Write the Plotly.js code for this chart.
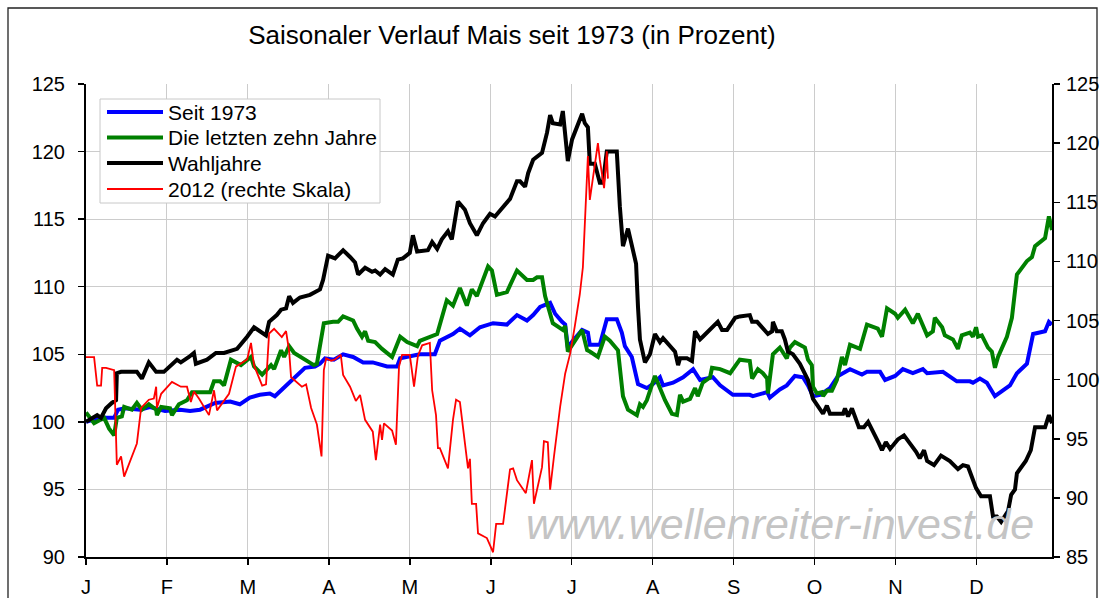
<!DOCTYPE html>
<html>
<head>
<meta charset="utf-8">
<script src="https://cdn.plot.ly/plotly-3.0.1.min.js"></script>
<style>html,body{margin:0;padding:0;background:#fff;}#chart{width:1102px;height:598px;}</style>
</head>
<body>
<div id="chart"></div>
<script>
// x = trading day of the year (≈21 per month)
const monthTickDays = [0,21,42,63,84,105,126,147,168,189,210,231];
const monthLabels = ['J','F','M','A','M','J','J','A','S','O','N','D'];

const seriesNames = ['Seit 1973','Die letzten zehn Jahre','Wahljahre','2012 (rechte Skala)'];

const xSeit = [0,3.6,7.3,8.3,10.1,14.0,16.6,20.5,24.4,27.0,29.6,33.5,37.4,39.9,42.5,45.1,47.7,49.0,51.6,54.2,56.8,59.4,60.7,62.0,64.3,66.7,69.3,71.9,74.4,78.1,80.7,81.5,83.3,86.6,90.5,91.8,95.2,97.0,99.6,102.2,105.6,109.2,111.8,114.4,116.0,117.8,120.4,121.7,123.5,124.3,125.0,126.3,128.7,130.2,130.7,133.3,135.1,137.7,139.0,139.8,141.6,143.2,145.5,147.1,148.9,149.7,152.3,154.9,157.5,159.3,162.6,164.5,167.8,172.2,173.0,176.7,177.4,180.0,181.8,183.9,186.0,187.3,188.6,190.4,193.0,195.1,198.2,201.3,202.6,206.0,207.3,209.9,211.9,214.5,217.1,218.2,222.3,225.9,229.3,230.1,231.9,233.7,235.8,239.7,241.5,244.1,245.7,248.8,249.8,250.6];
const ySeit = [100.0,100.3,100.3,100.9,101.0,100.9,101.1,100.8,100.9,100.8,100.9,101.4,101.5,101.3,101.8,102.0,102.1,101.9,102.6,103.3,104.0,104.1,104.3,104.7,104.6,105.0,104.8,104.4,104.4,104.1,104.1,104.7,104.8,105.0,105.0,106.0,106.5,106.9,106.4,107.0,107.3,107.2,107.9,107.5,107.9,108.5,108.8,108.0,107.4,107.2,105.5,106.0,106.8,106.6,105.7,105.7,107.6,107.6,106.6,105.6,104.8,102.8,102.5,102.8,103.3,102.7,102.9,103.3,103.9,103.1,103.3,102.7,102.0,102.0,101.9,102.2,101.8,102.4,102.7,103.4,103.3,102.7,101.9,102.0,102.5,103.4,103.9,103.5,103.7,103.7,103.1,103.4,103.9,103.6,103.9,103.6,103.7,103.0,103.0,102.9,103.2,102.9,101.9,102.7,103.6,104.3,106.5,106.7,107.4,107.2];

const xZehn = [0,2.1,4.7,6.0,7.3,8.0,9.3,9.9,11.9,13.2,14.5,16.3,18.2,18.4,19.5,21.8,22.3,24.1,26.2,27.5,32.2,33.2,34.8,35.8,37.6,38.9,40.2,42.8,43.6,45.7,46.7,48.0,48.8,50.6,51.4,52.7,54.0,56.5,59.1,59.9,61.7,64.1,65.4,66.7,69.3,70.3,71.6,72.4,73.2,75.0,76.8,79.4,81.5,83.3,84.8,85.9,86.6,89.2,91.1,93.6,95.2,97.0,98.8,100.1,101.4,104.3,105.3,106.6,109.2,110.0,111.8,114.4,116.0,117.0,118.3,119.1,120.4,121.1,123.7,124.3,125.0,126.3,128.7,130.0,130.7,132.8,134.6,135.9,138.0,139.3,140.6,142.9,143.7,144.5,145.5,147.6,148.9,150.2,152.0,153.3,154.1,154.9,156.7,158.0,158.7,160.0,161.9,162.4,164.5,167.1,169.6,172.2,172.8,174.3,175.6,176.7,176.9,178.2,180.0,181.8,182.6,183.9,186.5,187.3,188.3,188.6,189.6,190.9,191.2,192.2,193.5,194.8,196.1,196.9,198.2,200.8,202.6,205.4,206.5,207.8,209.9,210.6,212.5,214.5,215.8,218.2,219.7,220.2,222.1,222.8,224.9,226.2,227.2,229.3,230.1,230.9,231.4,232.4,234.0,235.0,235.8,236.6,238.9,240.2,241.5,244.1,245.4,246.2,248.8,249.8,250.6];
const yZehn = [100.7,99.9,100.3,99.5,99.0,100.3,100.4,101.1,100.9,101.4,100.9,101.3,100.9,100.5,101.1,101.0,100.5,101.3,101.6,102.2,102.2,103.0,103.0,102.7,104.6,104.4,104.2,104.8,104.1,103.5,103.8,104.2,103.9,105.3,104.8,105.6,105.1,104.7,104.2,104.3,107.3,107.4,107.4,107.8,107.5,106.9,106.3,106.7,106.0,105.9,105.4,104.8,106.3,105.9,105.7,105.6,106.0,106.3,106.5,109.0,108.6,109.9,108.6,109.8,109.3,111.5,111.2,109.4,109.6,110.1,111.2,110.5,110.5,110.7,110.7,109.3,108.1,107.3,106.8,107.1,105.2,105.8,106.8,105.3,105.2,104.8,106.3,106.0,105.3,101.9,100.9,100.5,101.3,101.1,101.6,103.4,102.4,101.6,100.6,100.5,102.0,101.5,101.7,102.5,101.9,102.9,103.3,104.0,103.9,103.6,104.6,104.5,103.2,103.9,103.6,103.2,102.1,105.0,105.5,104.7,105.5,105.9,105.5,104.6,104.2,102.6,102.1,102.2,101.9,102.3,102.3,103.1,104.8,104.2,105.7,105.4,107.2,106.9,106.3,108.4,108.0,107.7,108.3,107.3,108.0,106.4,106.7,107.7,107.0,106.4,106.1,105.4,106.4,106.6,106.3,107.0,106.3,106.4,105.5,105.2,104.0,104.8,106.3,107.7,110.9,111.9,112.2,113.0,113.6,115.2,114.2];

const xWahl = [0,2.9,3.9,5.2,6.7,7.8,8.0,9.1,13.2,14.5,16.3,18.2,20.2,23.6,24.6,25.9,26.7,28.0,28.5,31.4,33.7,35.8,37.1,39.2,41.8,43.6,46.7,47.5,49.5,50.6,51.9,52.7,53.7,55.5,58.1,59.7,60.7,61.5,62.8,64.6,66.7,68.5,69.8,70.6,72.4,74.2,75.0,76.3,77.6,79.6,80.9,82.2,84.0,84.8,85.9,88.7,89.8,91.1,92.3,93.9,94.9,96.5,98.3,99.6,101.4,103.0,104.8,106.1,107.9,110.0,111.8,112.6,113.9,114.7,116.0,118.3,119.6,120.4,121.1,123.0,123.7,125.0,126.1,128.7,129.4,130.2,130.7,132.0,133.3,134.1,135.1,137.7,138.5,139.3,140.6,142.7,143.2,143.7,145.0,146.3,147.6,148.9,149.7,151.5,152.8,153.6,154.1,155.9,157.2,158.0,159.3,160.0,162.6,163.9,165.0,166.3,168.4,169.6,172.2,172.8,174.1,175.4,176.9,178.0,178.2,179.2,180.5,181.3,182.1,183.4,185.2,187.3,188.6,191.2,192.2,193.0,196.4,196.9,197.7,198.7,200.5,201.8,202.9,205.7,206.5,207.5,208.6,210.6,212.2,215.3,216.3,217.4,218.2,220.0,221.8,224.1,226.2,227.5,228.8,230.9,232.2,234.5,235.3,236.3,237.4,239.2,240.0,241.0,241.5,243.8,245.1,246.2,248.8,249.8,250.6];
const yWahl = [100.0,100.5,100.3,101.0,101.4,101.6,103.6,103.7,103.7,103.2,104.4,103.7,103.7,104.6,104.4,104.6,104.8,105.1,104.3,104.6,105.1,105.1,105.2,105.4,106.3,107.0,106.4,107.4,107.9,108.3,108.4,109.3,108.8,109.2,109.4,109.6,109.8,110.5,112.3,112.1,112.7,112.2,111.8,110.9,111.4,111.1,111.2,110.9,111.3,110.9,112.0,112.1,112.5,113.8,112.6,112.7,113.3,112.8,113.5,114.1,113.5,116.3,115.7,114.7,113.8,114.7,115.4,115.2,115.8,116.5,117.8,117.8,117.4,118.4,119.4,119.9,121.4,122.7,122.1,122.0,123.0,119.3,120.9,122.8,122.1,121.8,119.1,119.1,117.7,117.7,120.0,120.0,115.9,113.0,114.3,111.7,108.5,106.1,104.4,105.0,106.5,105.9,106.2,105.6,105.2,104.2,104.7,104.7,104.5,106.7,106.1,106.3,107.0,107.4,106.8,106.8,107.7,107.8,107.9,107.4,107.4,107.0,106.5,106.7,107.4,106.7,106.7,106.1,105.2,105.0,104.3,103.1,101.7,100.6,101.2,100.6,100.6,101.0,100.4,101.0,99.6,99.6,100.0,98.4,97.9,98.5,98.0,98.7,99.0,97.8,97.3,97.9,97.1,96.8,97.5,97.1,96.5,96.8,96.7,95.1,94.5,94.5,93.0,93.0,92.6,93.4,94.6,95.0,96.2,97.1,97.9,99.6,99.6,100.5,99.9];

const x2012 = [0,2.1,2.9,3.9,4.2,5.2,7.3,7.8,8.0,9.1,9.9,13.2,14.3,16.3,17.6,18.2,18.4,19.5,22.3,24.6,26.2,27.2,28.0,29.3,31.9,33.2,34.0,37.1,38.9,41.8,42.8,43.6,45.7,46.7,47.5,48.8,50.8,51.9,52.7,53.2,54.7,56.0,57.1,58.4,59.9,61.1,61.7,62.3,63.6,64.6,66.1,66.7,68.5,70.0,71.1,72.4,74.4,75.2,76.3,76.8,77.3,79.4,80.4,81.2,82.0,84.0,85.1,86.1,87.2,89.2,89.8,90.8,91.3,91.8,93.9,94.9,95.2,96.0,97.0,99.1,99.6,100.1,101.2,101.7,104.0,104.8,105.6,106.4,108.2,110.0,110.8,111.8,114.1,115.7,116.2,118.3,118.8,119.8,120.4,121.4,123.0,124.3,125.6,126.8,128.1,128.9,130.2,130.7,132.8,133.3,134.4,135.1,135.4];
const y2012 = [101.9,101.9,99.5,99.5,101.0,101.0,100.8,94.6,92.8,93.5,91.8,94.6,97.6,98.3,98.4,99.4,97.6,98.8,99.8,99.4,99.4,98.1,99.0,98.4,97.0,99.1,97.4,98.8,101.1,101.7,103.1,101.2,99.5,99.6,103.9,104.3,103.6,104.1,102.4,100.2,99.8,99.4,99.6,97.6,96.2,93.5,100.8,101.8,101.6,101.7,102.1,100.4,99.4,98.2,98.7,96.6,95.6,93.2,96.2,94.9,96.3,95.7,94.5,101.1,102.1,102.1,99.4,102.0,102.9,103.1,99.1,97.0,94.2,94.2,92.5,95.9,96.6,98.3,98.1,92.5,93.3,89.5,89.5,87.0,86.6,86.0,85.4,87.8,87.8,92.4,92.5,91.5,90.4,93.2,89.5,92.6,94.8,94.7,90.7,93.5,97.7,100.5,102.2,104.5,107.2,109.5,118.9,115.2,120.0,118.6,116.2,119.3,117.0];

const colors = ['#0000ff','#008000','#000000','#ff0000'];
const widths = [4,4,4,1.8];
const FONT = 'Liberation Sans, Arial, Helvetica, sans-serif';

const traces = [
  {x:xSeit, y:ySeit, name:seriesNames[0], yaxis:'y'},
  {x:xZehn, y:yZehn, name:seriesNames[1], yaxis:'y'},
  {x:xWahl, y:yWahl, name:seriesNames[2], yaxis:'y'},
  {x:x2012, y:y2012, name:seriesNames[3], yaxis:'y2'}
].map((t,i)=>Object.assign(t,{type:'scatter',mode:'lines',line:{color:colors[i],width:widths[i]},hoverinfo:'skip'}));

// manual legend (paper coordinates)
const L = 86, W = 966, H = 473;
const px = v => (v - L) / W;
const py = v => (557 - v) / H;
const legendRows = [112, 137.5, 163, 189];

const shapes = [
  {type:'rect', xref:'paper', yref:'paper', x0:px(8), x1:px(1097), y0:-0.3, y1:py(8), line:{color:'#222', width:1.3}, fillcolor:'rgba(0,0,0,0)', layer:'below'},
  {type:'rect', xref:'paper', yref:'paper', x0:px(100), x1:px(380), y0:py(203), y1:py(99), line:{color:'#c8c8c8', width:1}, fillcolor:'#ffffff', layer:'above'}
];
const annotations = [
  {xref:'paper', yref:'paper', x:px(1036), y:py(524), xanchor:'right', yanchor:'middle', showarrow:false,
   text:'www.wellenreiter-invest.de', font:{family:FONT, size:43, color:'#c4c4c4', style:'italic'}}
];
legendRows.forEach((r,i)=>{
  shapes.push({type:'line', xref:'paper', yref:'paper', x0:px(107), x1:px(163), y0:py(r), y1:py(r), line:{color:colors[i], width:widths[i]}, layer:'above'});
  annotations.push({xref:'paper', yref:'paper', x:px(166), y:py(r), xanchor:'left', yanchor:'middle', showarrow:false,
    text:seriesNames[i], font:{family:FONT, size:21, color:'#000'}});
});

const axisCommon = {ticks:'outside', ticklen:6, tickcolor:'#000', tickwidth:1.5, showline:true, linecolor:'#000', linewidth:2, zeroline:false,
  tickfont:{family:FONT, size:20, color:'#000'}};

const layout = {
  width:1102, height:598,
  margin:{l:86, r:50, t:84, b:41},
  paper_bgcolor:'#fff', plot_bgcolor:'#fff',
  showlegend:false,
  title:{text:'Saisonaler Verlauf Mais seit 1973 (in Prozent)', font:{family:FONT, size:26, color:'#000'},
    xref:'container', yref:'container', x:512/1102, y:1-35/598, xanchor:'center', yanchor:'middle'},
  xaxis:Object.assign({}, axisCommon, {range:[0,250.6], tickmode:'array', tickvals:monthTickDays, ticktext:monthLabels,
    showgrid:true, gridcolor:'#cccccc', gridwidth:1, ticklabelstandoff:5}),
  yaxis:Object.assign({}, axisCommon, {range:[90,125], tick0:90, dtick:5, showgrid:true, gridcolor:'#cccccc', gridwidth:1, ticklabelstandoff:9}),
  yaxis2:Object.assign({}, axisCommon, {range:[85,125], tick0:85, dtick:5, overlaying:'y', side:'right', showgrid:false, ticklabelstandoff:2}),
  shapes:shapes,
  annotations:annotations
};

Plotly.newPlot('chart', traces, layout, {staticPlot:true, displayModeBar:false});
</script>
</body>
</html>
